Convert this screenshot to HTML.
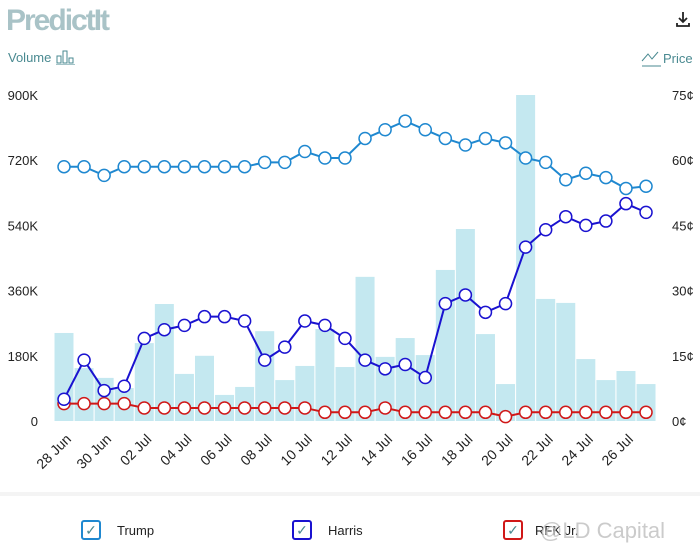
<!DOCTYPE html>
<html><head><meta charset="utf-8"><style>
body{margin:0;width:700px;height:556px;background:#fff;font-family:"Liberation Sans",sans-serif;overflow:hidden;position:relative}
.abs{position:absolute}
</style></head><body>
<div class="abs" style="left:6px;top:4px;font-size:30px;font-weight:bold;color:#a9c3c7;letter-spacing:-2px;font-family:'Liberation Sans Narrow','Liberation Sans',sans-serif">PredictIt</div>
<div class="abs" style="left:676px;top:10px;width:14px;height:18px">
<svg width="14" height="18"><path d="M7 2v10M3 8l4 4 4-4M1 13v3h12v-3" stroke="#222" stroke-width="1.8" fill="none"/></svg></div>
<div class="abs" style="left:8px;top:49px;font-size:13px;color:#4a8a91">Volume <svg width="22" height="16" style="vertical-align:-3px"><rect x="2" y="7" width="4" height="7" fill="none" stroke="#4a8a91"/><rect x="8" y="2" width="4" height="12" fill="none" stroke="#4a8a91"/><rect x="14" y="9" width="4" height="5" fill="none" stroke="#4a8a91"/><line x1="1" y1="16" x2="20" y2="16" stroke="#4a8a91"/></svg></div>
<div class="abs" style="left:641px;top:49px;font-size:13px;color:#4a8a91"><svg width="22" height="18" style="vertical-align:-4px"><path d="M1 12l6-7 4 5 6-7" stroke="#4a8a91" fill="none"/><line x1="1" y1="17" x2="20" y2="17" stroke="#4a8a91"/></svg>Price</div>
<svg class="abs" style="left:0;top:0" width="700" height="556" id="chart"></svg>
<div class="abs" style="left:0;top:492px;width:700px;height:4px;background:#f4f4f4"></div>
<div class="abs" style="left:81px;top:520px;font-size:13px;color:#222"><span style="display:inline-block;width:20px;height:20px;border:2px solid #1f88d0;border-radius:3px;box-sizing:border-box;vertical-align:middle;text-align:center;color:#4a8a91;line-height:17px;font-size:14px">✓</span><span style="margin-left:16px;vertical-align:middle">Trump</span></div>
<div class="abs" style="left:292px;top:520px;font-size:13px;color:#222"><span style="display:inline-block;width:20px;height:20px;border:2px solid #1a12d0;border-radius:3px;box-sizing:border-box;vertical-align:middle;text-align:center;color:#4a8a91;line-height:17px;font-size:14px">✓</span><span style="margin-left:16px;vertical-align:middle">Harris</span></div>
<div class="abs" style="left:503px;top:520px;font-size:13px;color:#222"><span style="display:inline-block;width:20px;height:20px;border:2px solid #d01818;border-radius:3px;box-sizing:border-box;vertical-align:middle;text-align:center;color:#4a8a91;line-height:17px;font-size:14px">✓</span><span style="margin-left:12px;vertical-align:middle">RFK Jr.</span></div>
<div class="abs" style="left:540px;top:518px;font-size:22px;color:rgba(190,190,190,0.8)">@LD Capital</div>
<script>
const dates=["28 Jun","29 Jun","30 Jun","01 Jul","02 Jul","03 Jul","04 Jul","05 Jul","06 Jul","07 Jul","08 Jul","09 Jul","10 Jul","11 Jul","12 Jul","13 Jul","14 Jul","15 Jul","16 Jul","17 Jul","18 Jul","19 Jul","20 Jul","21 Jul","22 Jul","23 Jul","24 Jul","25 Jul","26 Jul","27 Jul"];
const volume=[243,146,119,91,215,323,130,180,72,94,248,113,152,254,149,398,177,229,182,417,530,240,102,900,337,326,171,113,138,102];
const trump=[58.5,58.5,56.5,58.5,58.5,58.5,58.5,58.5,58.5,58.5,59.5,59.5,62,60.5,60.5,65,67,69,67,65,63.5,65,64,60.5,59.5,55.5,57,56,53.5,54];
const harris=[5,14,7,8,19,21,22,24,24,23,14,17,23,22,19,14,12,13,10,27,29,25,27,40,44,47,45,46,50,48];
const rfk=[4,4,4,4,3,3,3,3,3,3,3,3,3,2,2,2,3,2,2,2,2,2,1,2,2,2,2,2,2,2];
const volTicks=[0,180,360,540,720,900];
const priceTicks=[0,15,30,45,60,75];
const NS="http://www.w3.org/2000/svg";
const svg=document.getElementById('chart');
const X0=64,DX=20.07,Y0=421,H=326;
const x=i=>X0+i*DX;
const yV=v=>Y0-v/900*H;
const yP=p=>Y0-p/75*H;
function mk(t,a){const e=document.createElementNS(NS,t);for(const k in a)e.setAttribute(k,a[k]);svg.appendChild(e);return e;}
volTicks.forEach((t,i)=>{const e=mk('text',{x:38,y:yV(t)+5,'text-anchor':'end','font-size':13,fill:'#222'});e.textContent=t?t+'K':'0';

});
priceTicks.forEach(t=>{const e=mk('text',{x:672,y:yP(t)+5,'font-size':13,fill:'#222'});e.textContent=t+'¢';

});
volume.forEach((v,i)=>{const r=mk('rect',{x:x(i)-9.5,y:yV(v),width:19,height:Y0-yV(v),fill:'#c4e8f0'});

});
dates.forEach((d,i)=>{if(i%2)return;const e=mk('text',{transform:`translate(${x(i)+8},440) rotate(-45)`,'text-anchor':'end','font-size':14,fill:'#222'});e.textContent=d;

});
function series(vals,col,name){const p=mk('polyline',{points:vals.map((v,i)=>x(i)+','+yP(v)).join(' '),fill:'none',stroke:col,'stroke-width':2});


vals.forEach((v,i)=>{const c=mk('circle',{cx:x(i),cy:yP(v),r:6,fill:'#fff',stroke:col,'stroke-width':1.5});

});}
series(rfk,'#d01818','rfk');
series(harris,'#1a12d0','harris');
series(trump,'#1f88d0','trump');
</script>
</body></html>
